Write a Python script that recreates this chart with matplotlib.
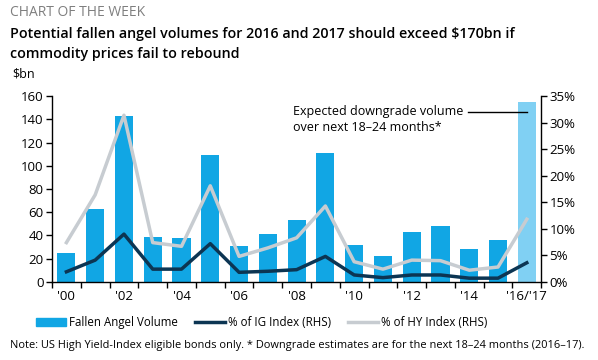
import numpy as np
import matplotlib
matplotlib.use("Agg")
import matplotlib.pyplot as plt
from matplotlib.lines import Line2D
from matplotlib.patches import Patch

plt.rcParams['font.family'] = ['Open Sans', 'DejaVu Sans']

# Data
years = ["'00", "'01", "'02", "'03", "'04", "'05", "'06", "'07", "'08",
         "'09", "'10", "'11", "'12", "'13", "'14", "'15", "'16/'17"]
volume = [25, 63, 143, 39, 38, 109, 31, 41, 53, 111, 32, 22, 43, 48, 28, 36, 155]
ig_pct = [1.9, 4.1, 9.0, 2.4, 2.4, 7.2, 1.8, 2.0, 2.3, 4.8, 1.3, 0.8, 1.3, 1.3, 0.7, 0.7, 3.6]
hy_pct = [7.4, 16.4, 31.4, 7.4, 6.7, 18.1, 4.8, 6.4, 8.3, 14.3, 3.8, 2.4, 4.1, 4.0, 2.2, 2.8, 11.8]

bar_blue = '#11a6e4'
bar_light = '#80d0f3'
ig_col = '#0c3553'
hy_col = '#c7ccd1'

fig = plt.figure(figsize=(5.98, 3.6), dpi=100)
ax = fig.add_axes([0.087, 0.217, 0.818, 0.516])
x = np.arange(len(years))
colors = [bar_blue] * (len(years) - 1) + [bar_light]
ax.bar(x, volume, width=0.63, color=colors, zorder=1)
ax.set_ylim(0, 160)
ax.set_xlim(-0.5, len(years) - 0.5)
ax.set_yticks(range(0, 161, 20))
ax.tick_params(axis='y', labelsize=9.5, length=4, width=1, pad=2)
ax.set_xticks(x[::2])
ax.set_xticklabels([years[i] for i in range(0, len(years), 2)], fontsize=9.5)
ax.set_xticks(np.arange(-0.5, len(years), 1.0), minor=True)
ax.tick_params(axis='x', which='major', length=0, pad=6)
ax.tick_params(axis='x', which='minor', length=4, width=1)
for s in ['top', 'right']:
    ax.spines[s].set_visible(False)
ax.spines['left'].set_linewidth(1)
ax.spines['bottom'].set_linewidth(1)

ax2 = ax.twinx()
ax2.plot(x, hy_pct, color=hy_col, lw=2.5, solid_joinstyle='round', zorder=2)
ax2.plot(x, ig_pct, color=ig_col, lw=2.5, solid_joinstyle='round', zorder=3)
ax2.set_ylim(0, 35)
ax2.set_yticks(range(0, 36, 5))
ax2.set_yticklabels([f'{v}%' for v in range(0, 36, 5)])
ax2.tick_params(axis='y', labelsize=9.5, length=4, width=1, pad=2)
for s in ['top', 'left', 'bottom']:
    ax2.spines[s].set_visible(False)
ax2.spines['right'].set_linewidth(1)

# annotation for last bar
ax2.text(7.88, 30.6, 'Expected downgrade volume\nover next 18\u201324 months*',
         fontsize=9, va='center', ha='left', linespacing=1.25)
ax2.plot([13.97, 16.0], [32.0, 32.0], color='black', lw=1.0, zorder=5)

fig.text(0.017, 0.965, 'CHART OF THE WEEK', fontsize=10, color='#7f7f7f', va='center')
fig.text(0.017, 0.905, 'Potential fallen angel volumes for 2016 and 2017 should exceed $170bn if',
         fontsize=10.3, fontweight='semibold', va='center')
fig.text(0.017, 0.85, 'commodity prices fail to rebound',
         fontsize=10.3, fontweight='semibold', va='center')
fig.text(0.02, 0.795, '$bn', fontsize=9, va='center')

handles = [Patch(color=bar_blue),
           Line2D([0], [0], color=ig_col, lw=2.5),
           Line2D([0], [0], color=hy_col, lw=2.5)]
labels = ['Fallen Angel Volume', '% of IG Index (RHS)', '% of HY Index (RHS)']
fig.legend(handles, labels, loc='center', bbox_to_anchor=(0.437, 0.103), ncol=3,
           frameon=False, fontsize=8.3, handlelength=2.6, handleheight=0.7,
           handletextpad=0.25, columnspacing=1.5)

fig.text(0.017, 0.04, 'Note: US High Yield-Index eligible bonds only. * Downgrade estimates are for the next 18\u201324 months (2016\u201317).',
         fontsize=7.95, va='center')

fig.savefig('out.png', dpi=100)
